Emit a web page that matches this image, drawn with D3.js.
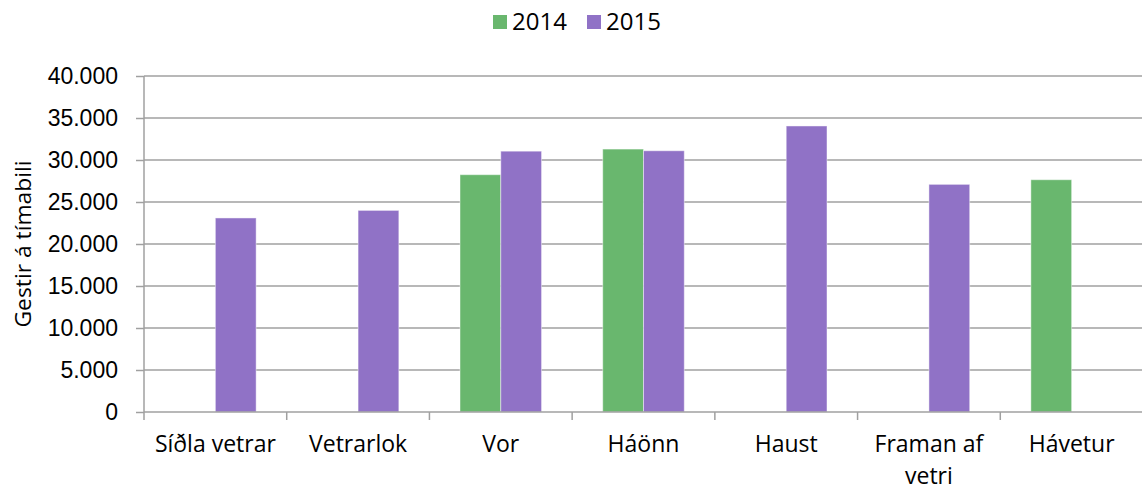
<!DOCTYPE html>
<html>
<head>
<meta charset="utf-8">
<script src="https://cdn.jsdelivr.net/npm/d3@7"></script>
<style>
  html, body { margin: 0; padding: 0; background: #fff; }
  svg { display: block; font-family: "Open Sans", sans-serif; }
  .axis text { font-size: 23px; fill: #000; }
</style>
</head>
<body>
<div id="chart"></div>
<script>
const categories = ["Síðla vetrar", "Vetrarlok", "Vor", "Háönn", "Haust", "Framan af vetri", "Hávetur"];
const seriesNames = ["2014", "2015"];
const values2014 = [null, null, 28250, 31300, null, null, 27650];
const values2015 = [23100, 24000, 31050, 31100, 34050, 27100, null];
const yTicks = [0, 5000, 10000, 15000, 20000, 25000, 30000, 35000, 40000];

const colors = { "2014": "#69b76e", "2015": "#9072c6" };

const width = 1142;
const height = 490;
const margin = { top: 76, right: -1, bottom: 78, left: 144 };
const plotWidth = width - margin.left - margin.right;
const plotHeight = height - margin.top - margin.bottom;

const svg = d3
  .select("#chart")
  .append("svg")
  .attr("width", width)
  .attr("height", height)
  .attr("viewBox", `0 0 ${width} ${height}`);

const g = svg
  .append("g")
  .attr("transform", `translate(${margin.left},${margin.top})`);

const locale = d3.formatLocale({
  decimal: ",",
  thousands: ".",
  grouping: [3],
  currency: ["", ""],
});
const fmt = locale.format(",");

const data = categories.map((c, i) => ({
  category: c,
  values: [
    { key: "2014", value: values2014[i] },
    { key: "2015", value: values2015[i] },
  ],
}));

const x0 = d3.scaleBand().domain(categories).range([0, plotWidth]).padding(0);
const bw = x0.bandwidth();
const side = (bw * 0.75) / 3.5;
const x1 = d3.scaleBand().domain(seriesNames).range([side, bw - side]).padding(0);

const y = d3.scaleLinear().domain([0, 40000]).range([plotHeight, 0]);

// gridlines
g.append("g")
  .selectAll("line")
  .data(yTicks.filter((d) => d > 0))
  .join("line")
  .attr("x1", 0)
  .attr("x2", plotWidth)
  .attr("y1", (d) => y(d))
  .attr("y2", (d) => y(d))
  .attr("stroke", "#a0a0a0")
  .attr("stroke-width", 1.5);

// bars
const groups = g
  .selectAll(".cat")
  .data(data)
  .join("g")
  .attr("class", "cat")
  .attr("transform", (d) => `translate(${x0(d.category)},0)`);

groups
  .selectAll("rect")
  .data((d) => d.values.filter((v) => v.value != null))
  .join("rect")
  .attr("x", (d) => x1(d.key))
  .attr("width", x1.bandwidth())
  .attr("y", (d) => y(d.value))
  .attr("height", (d) => y(0) - y(d.value))
  .attr("fill", (d) => colors[d.key])
  .attr("stroke", "#fff")
  .attr("stroke-opacity", 0.45)
  .attr("stroke-width", 1);

// y axis
const yAxis = g
  .append("g")
  .attr("class", "axis")
  .call(d3.axisLeft(y).tickValues(yTicks).tickSize(8).tickPadding(18).tickFormat(fmt));
yAxis.select(".domain").attr("stroke", "#a0a0a0").attr("stroke-width", 1.5).attr("d", `M0,0V${plotHeight}`);
yAxis.selectAll(".tick line").attr("stroke", "#a0a0a0").attr("stroke-width", 1.5);

// x axis
const xAxis = g
  .append("g")
  .attr("class", "axis")
  .attr("transform", `translate(0,${plotHeight})`);
xAxis
  .append("line")
  .attr("x1", 0)
  .attr("x2", plotWidth)
  .attr("stroke", "#a0a0a0")
  .attr("stroke-width", 1.5);
xAxis
  .selectAll(".xtick")
  .data(d3.range(categories.length + 1))
  .join("line")
  .attr("x1", (i) => i * bw)
  .attr("x2", (i) => i * bw)
  .attr("y1", 0)
  .attr("y2", 8)
  .attr("stroke", "#a0a0a0")
  .attr("stroke-width", 1.5);

const xLabels = xAxis
  .selectAll(".xlabel")
  .data(categories)
  .join("text")
  .attr("class", "xlabel")
  .attr("x", (d) => x0(d) + bw / 2)
  .attr("y", 40)
  .attr("text-anchor", "middle");

function wrap(sel, maxWidth) {
  sel.each(function (d) {
    const text = d3.select(this);
    const words = d.split(" ");
    const x = text.attr("x");
    let line = [];
    let tspan = text.append("tspan").attr("x", x).attr("dy", 0);
    for (const w of words) {
      line.push(w);
      tspan.text(line.join(" "));
      if (tspan.node().getComputedTextLength() > maxWidth && line.length > 1) {
        line.pop();
        tspan.text(line.join(" "));
        line = [w];
        tspan = text.append("tspan").attr("x", x).attr("dy", 31.5).text(w);
      }
    }
  });
}
xLabels.call(wrap, 125);

// y axis title
svg
  .append("text")
  .attr("transform", `translate(31,${margin.top + plotHeight / 2}) rotate(-90)`)
  .attr("text-anchor", "middle")
  .attr("font-size", 22)
  .attr("textLength", 167)
  .attr("lengthAdjust", "spacingAndGlyphs")
  .attr("fill", "#000")
  .text("Gestir á tímabili");

// legend
const legend = svg.append("g").attr("transform", "translate(493,15)");
const items = legend
  .selectAll("g")
  .data(seriesNames)
  .join("g")
  .attr("transform", (d, i) => `translate(${i * 94},0)`);
items
  .append("rect")
  .attr("x", 0)
  .attr("y", 0)
  .attr("width", 14)
  .attr("height", 14)
  .attr("fill", (d) => colors[d]);
items
  .append("text")
  .attr("x", 19)
  .attr("y", 15)
  .attr("font-size", 24)
  .attr("fill", "#000")
  .text((d) => d);
</script>
</body>
</html>
